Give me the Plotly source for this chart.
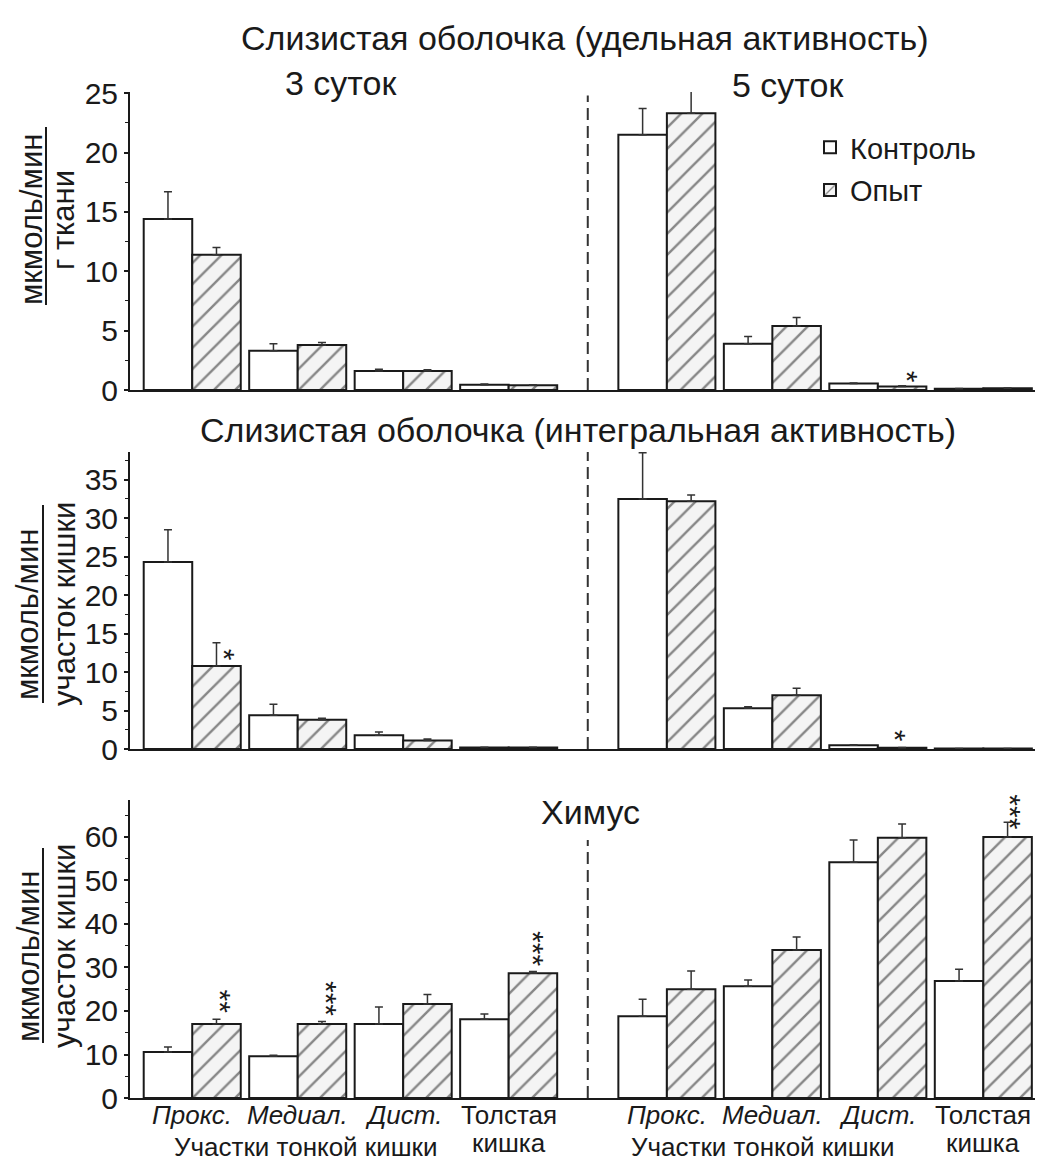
import plotly.graph_objects as go

W, H = 1038, 1164
FONT = "Liberation Sans, Arial, sans-serif"

# ---------------- data ----------------
categories = ["Прокс.", "Медиал.", "Дист.", "Толстая кишка"]
cat_lines = [["<i>Прокс.</i>"], ["<i>Медиал.</i>"], ["<i>Дист.</i>"], ["Толстая", "кишка"]]
periods = ["3 суток", "5 суток"]
series_names = ["Контроль", "Опыт"]
x_pos = [0, 1, 2, 3, 4.5, 5.5, 6.5, 7.5]   # 4 sites for 3 days, then 4 sites for 5 days

# Panel 1: mucosa, specific activity
p1_ctrl = [14.4, 3.3, 1.6, 0.45, 21.5, 3.9, 0.55, 0.10]
p1_ctrl_err = [2.3, 0.6, 0.15, 0.05, 2.2, 0.6, 0.05, 0.02]
p1_exp = [11.4, 3.8, 1.6, 0.40, 23.3, 5.4, 0.30, 0.15]
p1_exp_err = [0.6, 0.2, 0.10, 0.05, 2.3, 0.7, 0.05, 0.02]

# Panel 2: mucosa, integral activity
p2_ctrl = [24.3, 4.4, 1.8, 0.20, 32.5, 5.3, 0.50, 0.05]
p2_ctrl_err = [4.2, 1.4, 0.4, 0.03, 6.0, 0.2, 0.05, 0.01]
p2_exp = [10.8, 3.8, 1.1, 0.20, 32.2, 7.0, 0.15, 0.05]
p2_exp_err = [3.0, 0.2, 0.2, 0.03, 0.8, 0.9, 0.03, 0.01]

# Panel 3: chyme
p3_ctrl = [10.6, 9.6, 17.0, 18.1, 18.8, 25.7, 54.2, 26.9]
p3_ctrl_err = [1.1, 0.2, 3.9, 1.2, 3.9, 1.4, 5.1, 2.7]
p3_exp = [17.0, 17.0, 21.6, 28.7, 25.0, 34.0, 59.8, 60.0]
p3_exp_err = [1.1, 0.6, 2.2, 0.4, 4.2, 3.0, 3.2, 3.4]

panel_titles = ["Слизистая оболочка (удельная активность)",
                "Слизистая оболочка (интегральная активность)",
                "Химус"]
y_top_labels = ["мкмоль/мин", "мкмоль/мин", "мкмоль/мин"]
y_bottom_labels = ["г ткани", "участок кишки", "участок кишки"]
group_caption = "Участки тонкой кишки"
y_ranges = [[0, 25.1], [0, 38.6], [0, 68.5]]
y_dticks = [5, 5, 10]
y_minor = [2.5, 2.5, 5]

# significance marks: (panel, bar index, number of stars, value of lowest star, x shift px)
stars = [
    (1, 6, 1, 1.1, 12),
    (2, 0, 1, 12.2, 15),
    (2, 6, 1, 1.7, 0),
    (3, 0, 2, 20.7, 11),
    (3, 1, 3, 20.0, 11),
    (3, 3, 3, 31.5, 7),
    (3, 7, 3, 63.0, 9),
]

panels = [
    (p1_ctrl, p1_ctrl_err, p1_exp, p1_exp_err),
    (p2_ctrl, p2_ctrl_err, p2_exp, p2_exp_err),
    (p3_ctrl, p3_ctrl_err, p3_exp, p3_exp_err),
]

# ---------------- layout geometry (pixels) ----------------
def px(xp):
    return xp / W

def py(yp):
    return 1 - yp / H

x_domain = [px(130), px(1035)]
y_domains = [[py(390), py(92)], [py(749), py(452)], [py(1098), py(800)]]
x_range = [-0.59, 7.99]
BW = 0.46
INK = "#1a1a1a"

fig = go.Figure()

for i, (c, ce, e, ee) in enumerate(panels):
    n = i + 1
    xa = "x" if n == 1 else f"x{n}"
    ya = "y" if n == 1 else f"y{n}"
    fig.add_trace(go.Bar(
        x=x_pos, y=c, width=BW, offset=-BW, xaxis=xa, yaxis=ya,
        name=series_names[0], legendgroup="c", showlegend=(n == 1),
        marker=dict(color="white", line=dict(color=INK, width=2)),
        error_y=dict(type="data", array=ce, arrayminus=[0] * len(ce), symmetric=False,
                     color="#333", thickness=1.5, width=4),
        cliponaxis=False,
    ))
    fig.add_trace(go.Bar(
        x=x_pos, y=e, width=BW, offset=0, xaxis=xa, yaxis=ya,
        name=series_names[1], legendgroup="e", showlegend=(n == 1),
        marker=dict(color="white", line=dict(color=INK, width=2),
                    pattern=dict(shape="/", fgcolor="#1a1a1a", bgcolor="#f4f4f4",
                                 size=15, solidity=0.16)),
        error_y=dict(type="data", array=ee, arrayminus=[0] * len(ee), symmetric=False,
                     color="#333", thickness=1.5, width=4),
        cliponaxis=False,
    ))

layout = dict(
    width=W, height=H,
    margin=dict(l=0, r=0, t=0, b=0, autoexpand=False),
    paper_bgcolor="white", plot_bgcolor="white",
    barmode="overlay",
    font=dict(family=FONT, color="#1a1a1a", size=24),
    showlegend=True,
    legend=dict(x=px(810), y=py(122), xanchor="left", yanchor="top",
                font=dict(size=29, family=FONT), bgcolor="rgba(0,0,0,0)",
                tracegroupgap=2),
)

for i in range(3):
    n = i + 1
    xk = "xaxis" if n == 1 else f"xaxis{n}"
    yk = "yaxis" if n == 1 else f"yaxis{n}"
    yref = "y" if n == 1 else f"y{n}"
    layout[xk] = dict(domain=x_domain, range=x_range, anchor=yref, showgrid=False,
                      zeroline=False, showline=True, linecolor=INK, linewidth=2,
                      ticks="", showticklabels=False, fixedrange=True, automargin=False)
    layout[yk] = dict(
        domain=y_domains[i], range=y_ranges[i], anchor="x" if n == 1 else f"x{n}",
        showgrid=False, zeroline=False, showline=True, linecolor=INK, linewidth=2,
        tickmode="linear", tick0=0, dtick=y_dticks[i], ticks="outside", ticklen=4,
        tickwidth=1.5, tickcolor=INK, tickfont=dict(size=30, family=FONT),
        minor=dict(dtick=y_minor[i], ticks="outside", ticklen=3, tickcolor=INK, tickwidth=1),
        fixedrange=True, automargin=False,
    )

fig.update_layout(**layout)

# dashed divider between the two periods
divider = (x_pos[3] + x_pos[4]) / 2
div_tops = [24.8, 38.8, 59.3]
for i in range(3):
    n = i + 1
    fig.add_shape(type="line", xref="x" if n == 1 else f"x{n}", yref="y" if n == 1 else f"y{n}",
                  x0=divider, x1=divider, y0=0, y1=div_tops[i],
                  line=dict(color="#333", width=2, dash="12px,6px"))

ann = []

def text_ann(text, x, y, size, **kw):
    d = dict(text=text, x=x, y=y, xref="paper", yref="paper", showarrow=False,
             xanchor="center", yanchor="middle", font=dict(size=size, family=FONT))
    d.update(kw)
    ann.append(d)

# panel titles
text_ann(panel_titles[0], px(585), py(38), 34)
text_ann(panel_titles[1], px(578), py(430), 34)
text_ann(panel_titles[2], px(590), py(812), 34)
text_ann(periods[0], px(341), py(83), 34)
text_ann(periods[1], px(788), py(85), 34)

# y-axis fraction labels
ylab_geom = [  # (top text x, bottom text x, y center top, y center bottom, line x, line y0, line y1)
    (31, 63, 220, 220, 46, 127, 305),
    (27, 64, 615, 604, 43, 505, 703),
    (28, 64, 957, 946, 43, 848, 1043),
]
for i, (xt, xb, yt, yb, lx, ly0, ly1) in enumerate(ylab_geom):
    text_ann(y_top_labels[i], px(xt), py(yt), 31, textangle=-90)
    text_ann(y_bottom_labels[i], px(xb), py(yb), 31, textangle=-90)
    fig.add_shape(type="line", xref="paper", yref="paper", x0=px(lx), x1=px(lx),
                  y0=py(ly0), y1=py(ly1), line=dict(color=INK, width=2))

# category labels under the bottom panel (one annotation per text line)
line_y = [1115, 1143]
for j, xp in enumerate(x_pos):
    for k, line in enumerate(cat_lines[j % 4]):
        ann.append(dict(text=line, x=xp, y=py(line_y[k]), xref="x3", yref="paper",
                        showarrow=False, xanchor="center", yanchor="middle",
                        font=dict(size=26, family=FONT)))

# group caption under small-intestine sites
for xc in (1.08, 5.41):
    ann.append(dict(text=group_caption, x=xc, y=py(1147), xref="x3", yref="paper",
                    showarrow=False, xanchor="center", yanchor="middle",
                    font=dict(size=26, family=FONT)))

# significance stars: one vertical column of asterisks per mark (rotated string)
STAR_STEP = 12
for (pn, idx, cnt, yv, xs) in stars:
    ann.append(dict(text="*" * cnt, x=x_pos[idx] + BW / 2, y=yv,
                    xref="x" if pn == 1 else f"x{pn}", yref="y" if pn == 1 else f"y{pn}",
                    showarrow=False, xanchor="center", yanchor="middle", textangle=90,
                    xshift=xs - 7, yshift=(cnt - 1) * STAR_STEP / 2,
                    font=dict(size=30, family=FONT)))

fig.update_layout(annotations=ann)
fig.write_html("out.html")
